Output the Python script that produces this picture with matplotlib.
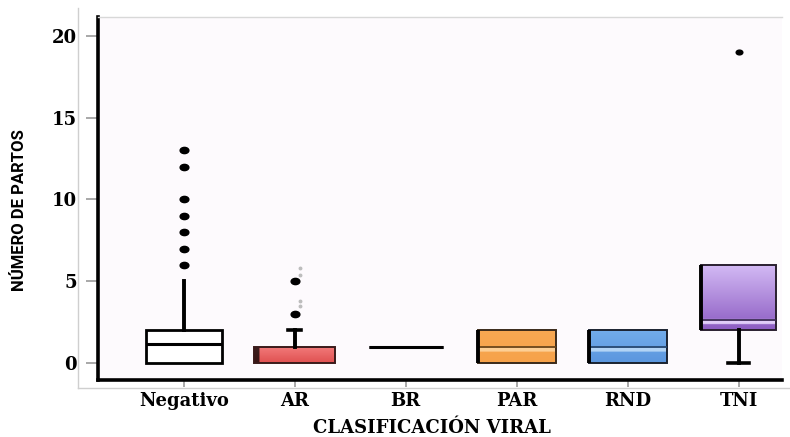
import numpy as np
import matplotlib
matplotlib.use("Agg")
import matplotlib.pyplot as plt
from matplotlib.colors import to_rgb
from matplotlib.lines import Line2D
from matplotlib.path import Path
from matplotlib.transforms import Affine2D

## Summary statistics per viral class ##
categories = ["Negativo", "AR", "BR", "PAR", "RND", "TNI"]
q1 = [0, 0, 1, 0, 0, 2]
med = [1.15, 1, 1, 1, 1, 2.65]
q3 = [2, 1, 1, 2, 2, 6]
whislo = [0, 0, 1, 0, 0, 0]
whishi = [5, 2, 1, 2, 2, 6]
fliers = [[6, 7, 8, 9, 10, 12, 13], [3, 5], [], [], [], [19]]
faint_ar = [3.5, 3.8, 5.4, 5.8]

face_top = ["#ffffff", "#f27c7c", "#ffffff", "#f8a852", "#72aceb", "#d4bbf5"]
face_bot = ["#ffffff", "#e05050", "#ffffff", "#f6a24a", "#5b96de", "#8c5cc2"]
band_col = [None, None, None, "#fdcf95", "#b3d4f5", "#e0cdf8"]
med_col = ["black", "black", "black", "#6b4418", "#22456f", "#3b2a55"]
edge_col = ["black", "#3a1a1a", "black", "#3a2a1a", "#1a2230", "#2a2030"]

x_label = "CLASIFICACIÓN VIRAL"
y_label = "NÚMERO DE PARTOS"

W, H = 790, 437
fig = plt.figure(figsize=(W / 100, H / 100), dpi=100)
fig.patch.set_facecolor("white")

# axes box in pixels from the top-left corner
L, B, R, T = 98, 380, 782, 17
ax = fig.add_axes([L / W, 1 - B / H, (R - L) / W, (B - T) / H])
ax.set_facecolor("#fdfafd")
px_per_unit = (B - T) / (21.16 + 1.04)

stats = []
for i, c in enumerate(categories):
    stats.append(dict(label=c, q1=q1[i], med=med[i], q3=q3[i],
                      whislo=whislo[i], whishi=whishi[i], fliers=fliers[i]))

# slightly flattened dot for the outliers
dot = Path.unit_circle().transformed(Affine2D().scale(1.4, 1.0))

pos = np.arange(1, len(categories) + 1)
widths = [0.69, 0.73, 0.67, 0.7, 0.7, 0.68]
bp = ax.bxp(stats, positions=pos, widths=widths, patch_artist=True,
            capwidths=[0.12, 0.12, 0.0, 0.0, 0.0, 0.19],
            boxprops=dict(linewidth=2.0, edgecolor="black"),
            medianprops=dict(color="black", linewidth=2.2),
            whiskerprops=dict(color="black", linewidth=2.8),
            capprops=dict(color="black", linewidth=2.6),
            flierprops=dict(marker=dot, markerfacecolor="black",
                            markeredgecolor="black", markersize=6.3))

# only the caps that show
hide_caps = [(0, 0), (0, 1), (1, 0), (2, 0), (2, 1), (3, 0), (3, 1),
             (4, 0), (4, 1), (5, 1)]
for i, j in hide_caps:
    bp["caps"][2 * i + j].set_visible(False)

for i, m in enumerate(bp["medians"]):
    m.set_color(med_col[i])
    if band_col[i] is not None:
        m.set_linewidth(1.3)
    if i == 1:
        m.set_visible(False)
bp["fliers"][5].set_markersize(4.8)

# gradient fills clipped to each box
for i, patch in enumerate(bp["boxes"]):
    patch.set_facecolor("none")
    patch.set_edgecolor(edge_col[i])
    if i in (1, 3, 4, 5):
        patch.set_linewidth(1.4)
    if q3[i] == q1[i]:
        continue
    top = np.array(to_rgb(face_top[i]))
    bot = np.array(to_rgb(face_bot[i]))
    n = 200
    t = np.linspace(0, 1, n)[:, None]
    col = top * (1 - t) + bot * t
    img = np.repeat(col[:, None, :], 60, axis=1)
    if band_col[i] is not None:
        # light band just under the median line
        rows_per_px = n / ((q3[i] - q1[i]) * px_per_unit)
        k0 = int((q3[i] - med[i]) / (q3[i] - q1[i]) * n)
        k1 = k0 + int(round(5 * rows_per_px))
        img[k0:k1] = np.array(to_rgb(band_col[i]))
    if i == 1:
        img[:, :4] = img[:, :4] * 0.25
    half = widths[i] / 2
    im = ax.imshow(img, extent=(pos[i] - half, pos[i] + half, q1[i], q3[i]),
                   aspect="auto", origin="upper", zorder=1.5,
                   interpolation="bilinear")
    im.set_clip_path(patch)
    patch.set_zorder(2)
    if i in (3, 4, 5):
        # heavy left edge on the coloured boxes
        ax.plot([pos[i] - half, pos[i] - half], [q1[i], q3[i]],
                color="black", lw=2.8, solid_capstyle="butt", zorder=2.1)

# faint small dots above the AR whisker
ax.plot([2.05] * len(faint_ar), faint_ar, "o", color="#bdbdbd",
        markersize=1.8, zorder=2)

ax.set_xlim(0.227, 6.39)
ax.set_ylim(-1.04, 21.16)
ax.set_yticks([0, 5, 10, 15, 20])
ax.set_xticks(pos)
ax.set_xticklabels(categories)

for lab in ax.get_xticklabels() + ax.get_yticklabels():
    lab.set_fontfamily("DejaVu Serif")
    lab.set_fontweight("bold")
    lab.set_fontsize(13)

ax.tick_params(axis="y", direction="out", length=9, width=1.2,
               color="#9a9a9a", pad=6)
ax.tick_params(axis="x", direction="out", length=5, width=1.2,
               color="#9a9a9a", pad=4)

for side in ["left", "bottom"]:
    ax.spines[side].set_linewidth(2.6)
    ax.spines[side].set_color("black")
ax.spines["top"].set_color("#d8d8d8")
ax.spines["top"].set_linewidth(1.0)
ax.spines["right"].set_visible(False)

# thin outer frame around the plot region
fx0, fy0, fy1 = 78 / W, 1 - 388 / H, 1 - 8 / H
fig.add_artist(Line2D([fx0, fx0], [fy0, fy1], color="#cfcfcf", lw=1.0))
fig.add_artist(Line2D([fx0, 1.0], [fy0, fy0], color="#cfcfcf", lw=1.0))

ax.set_xlabel(x_label, fontfamily="DejaVu Serif", fontweight="bold",
              fontsize=13)
ax.xaxis.set_label_coords((432 - L) / (R - L), -0.108)
fig.text(20 / W, 1 - 210 / H, y_label, rotation=90, ha="center", va="center",
         fontsize=12, fontweight="bold",
         family=["Liberation Sans Narrow", "Roboto", "DejaVu Sans"])

fig.savefig("out.png", dpi=100)
